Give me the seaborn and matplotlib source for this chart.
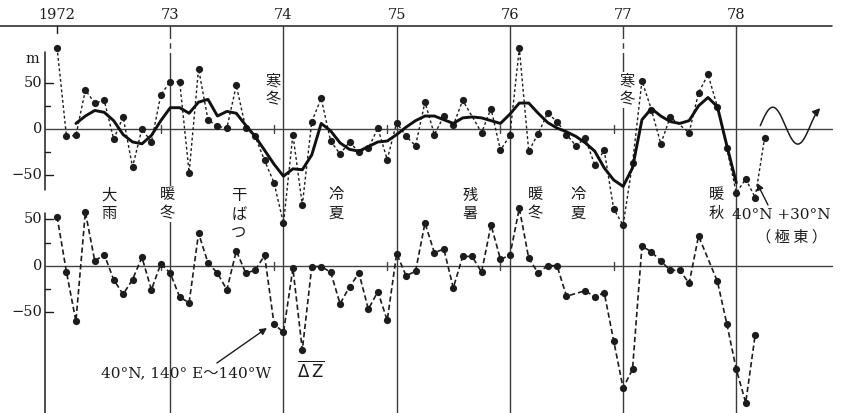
import numpy as np
import pandas as pd
import matplotlib
matplotlib.use("Agg")
import matplotlib.pyplot as plt
import seaborn as sns

sns.set_style("white")
plt.rcParams["font.family"] = ["DejaVu Serif", "Noto Sans CJK JP"]
plt.rcParams["axes.unicode_minus"] = True

nan = np.nan

years = [1972, 1973, 1974, 1975, 1976, 1977, 1978]
year_labels = ["1972", "73", "74", "75", "76", "77", "78"]

# 40°N + 30°N (Far East) monthly height anomaly, m  (Jan 1972 - Apr 1978)
far_east = [
    88, -8, -7, 42, 28, 31, -11, 13, -41, 0, -14, 37,
    51, 51, -47, 65, 10, 3, 1, 47, 1, -8, -34, -58,
    -102, -6, -82, 8, 33, -13, -27, -14, -25, -21, 1, -33,
    7, -8, -18, 29, -6, 14, 4, 31, nan, -4, 22, -23,
    -7, 87, -24, -5, 17, 8, -6, -18, -10, -39, -23, -86,
    -104, -37, 52, 21, -16, 13, nan, -4, 39, 59, 24, -21,
    -69, -54, -74, -10,
]

# running mean of the Far East series (Mar 1972 - Jan 1978)
far_east_smooth = [
    6, 14, 20, 18, 9, -6, -14, -16, -7, 9,
    23, 23, 17, 29, 32, 14, 19, 17, 4, -8, -23, -38,
    -51, -43, -44, -28, 6, -2, -15, -22, -24, -19, -14, -13,
    -6, 2, 9, 14, 14, 10, 6, 12, 13, 12, 9, 6,
    16, 28, 28, 17, 7, 1, -3, -8, -15, -24, -42, -55,
    -62, -42, 10, 22, 14, 8, 6, 9, 25, 34, 24, -18,
    -58,
]
smooth_start = 1972 + 2 / 12

# ΔZ along 40°N, 140°E-140°W, m  (Jan 1972 - Mar 1978)
dz_pacific = [
    53, -7, -60, 58, 5, 12, -15, -31, -15, 9, -26, 2,
    -8, -34, -40, 35, 3, -8, -26, 16, -8, -5, 11, -63,
    -72, -3, -91, -1, -1, -7, -41, -23, -8, -47, -28, -59,
    13, -11, -6, 46, 14, 18, -24, 10, 10, -7, 44, 7,
    11, 62, 8, -8, 0, 0, -33, nan, -27, -34, -29, -81,
    -132, -112, 21, 15, 5, -5, -5, -19, 32, nan, -17, -63,
    -112, -148, -75,
]

# weather events marked between the two curves
events = ["大雨", "暖冬", "干ばつ", "冷夏", "残暑", "暖冬", "冷夏", "暖秋"]
event_x = [1972.458, 1972.975, 1973.607, 1974.464, 1975.648, 1976.222, 1976.602, 1977.821]
cold_winters = ["寒冬", "寒冬"]
cold_x = [1973.912, 1977.034]


def frame(values, start):
    d = pd.DataFrame({"t": start + np.arange(len(values)) / 12.0, "v": values})
    return d.dropna()


ink = "#1c1c1c"
grid = "#3a3a3a"

fig = plt.figure(figsize=(8.41, 4.13), dpi=100)
fig.patch.set_facecolor("white")
ax = fig.add_axes([0, 0, 1, 1])               # lower panel units
ax_t = fig.add_axes([0, 0, 1, 1], sharex=ax)  # upper panel units
ax_t.patch.set_alpha(0)

x_left, x_right = 1971.496, 1978.925
ax.set_xlim(x_left, x_right)
ax.set_ylim(-159.1, 286.9)
ax_t.set_ylim(-306.7, 139.3)

top_y = 258.9
x_axis = 1971.895
x_end = 1978.845

# time axis along the top
ax.plot([x_left, x_end], [top_y, top_y], color=ink, lw=1.1, zorder=2)
for yr, lab in zip(years, year_labels):
    ax.text(yr, 270.2, lab, ha="center", va="center", fontsize=10.5, color=ink)
    if yr == 1972:
        ax.plot([yr, yr], [top_y, 251.3], color=ink, lw=1.0)
    elif yr in (1973, 1977):
        ax.plot([yr, yr], [top_y, 251.3], color=grid, lw=1.0)
        ax.plot([yr, yr], [251.3, 224.3], color=grid, lw=1.0, ls=(0, (4, 3)))
        ax.plot([yr, yr], [224.3, -159.1], color=grid, lw=1.0)
    else:
        ax.plot([yr, yr], [top_y, -159.1], color=grid, lw=1.0)

# vertical axes, zero lines and ticks of both panels
for a, (lo, hi) in ((ax_t, (-65.9, 83.2)), (ax, (-159.1, 56.9))):
    a.plot([x_axis, x_axis], [lo, hi], color=ink, lw=1.1, zorder=2)
    a.plot([x_axis, x_end], [0, 0], color="#444444", lw=1.0, zorder=2)
    for v in (50, -50):
        a.plot([x_axis, x_axis + 0.07], [v, v], color=ink, lw=1.0)
        a.text(1971.867, v, f"{v}".replace("-", "\u2212"), ha="right", va="center",
               fontsize=10.5, color=ink)
    for v in (25, -25):
        a.plot([x_axis, x_axis + 0.044], [v, v], color=ink, lw=1.0)
    a.text(1971.867, 0, "0", ha="right", va="center", fontsize=10.5, color=ink)
    for yr in years[1:-1]:
        tx = yr - 1 / 12
        a.plot([tx, tx], [-4.3, 4.3], color="#444444", lw=1.0)
ax_t.text(1971.778, 75.6, "m", ha="center", va="center", fontsize=10.5, color=ink)

# upper panel: monthly values and running mean
top = frame(far_east, 1972)
sns.lineplot(data=top, x="t", y="v", ax=ax_t, color=ink, lw=1.0,
             ls=(0, (2, 1.8)), marker="o", markersize=5.2, markeredgewidth=0,
             errorbar=None, zorder=3)
smooth = frame(far_east_smooth, smooth_start)
sns.lineplot(data=smooth, x="t", y="v", ax=ax_t, color="#111111", lw=2.1,
             errorbar=None, zorder=4, solid_joinstyle="round", solid_capstyle="round")

# lower panel: ΔZ
bot = frame(dz_pacific, 1972)
sns.lineplot(data=bot, x="t", y="v", ax=ax, color=ink, lw=1.2,
             ls=(0, (3.2, 1.8)), marker="o", markersize=5.2, markeredgewidth=0,
             errorbar=None, zorder=3)

# event labels, written vertically
jp = ["Noto Sans CJK JP"]
box = dict(facecolor="white", edgecolor="none", pad=0.6)
for lab, x in zip(events, event_x):
    y = 55.8 if len(lab) == 3 else 66.6
    ax.text(x, y, "\n".join(lab), ha="center", va="center", fontsize=11,
            family=jp, color=ink, linespacing=1.08, bbox=box, zorder=5)
for lab, x in zip(cold_winters, cold_x):
    ax_t.text(x, 42.0, "\n".join(lab), ha="center", va="center", fontsize=11,
              family=jp, color=ink, linespacing=1.08, bbox=box, zorder=5)

# series captions
ax_t.text(1978.395, -92.9, "40°N +30°N", ha="center", va="center", fontsize=11,
          color=ink, zorder=5)
ax_t.text(1978.484, -116.6, "（ 極 東 ）", ha="center", va="center", fontsize=11,
          family=jp, color=ink, zorder=5)
ax_t.annotate("", xy=(1978.183, -58.3), xytext=(1978.280, -82.1),
              arrowprops=dict(arrowstyle="-|>", color=ink, lw=1.0, mutation_scale=10,
                              shrinkA=0, shrinkB=0), zorder=5)

ax.text(1973.139, -115.9, "40°N, 140° E～140°W", ha="center", va="center",
        fontsize=11, color=ink, zorder=5)
ax.annotate("", xy=(1973.854, -67.3), xytext=(1973.412, -105.1),
            arrowprops=dict(arrowstyle="-|>", color=ink, lw=1.0, mutation_scale=10,
                            shrinkA=0, shrinkB=0), zorder=5)
ax.text(1974.243, -113.7, r"$\overline{\mathit{\Delta}\,\mathrm{Z}}$", ha="center",
        va="center", fontsize=12, color=ink, zorder=5)

# wave symbol with arrow in the upper right
ph = np.linspace(0, 1.2, 120)
wx = 1978.212 + ph * 0.4417
wy = 3.6 + 19.9 * np.sin(2 * np.pi * ph)
ax_t.plot(wx[:-4], wy[:-4], color=ink, lw=1.1)
ax_t.annotate("", xy=(wx[-1], wy[-1]), xytext=(wx[-6], wy[-6]),
              arrowprops=dict(arrowstyle="-|>", color=ink, lw=1.1, mutation_scale=11,
                              shrinkA=0, shrinkB=0))

for a in (ax, ax_t):
    a.set_axis_off()

fig.savefig("out.png", dpi=100, facecolor="white")
